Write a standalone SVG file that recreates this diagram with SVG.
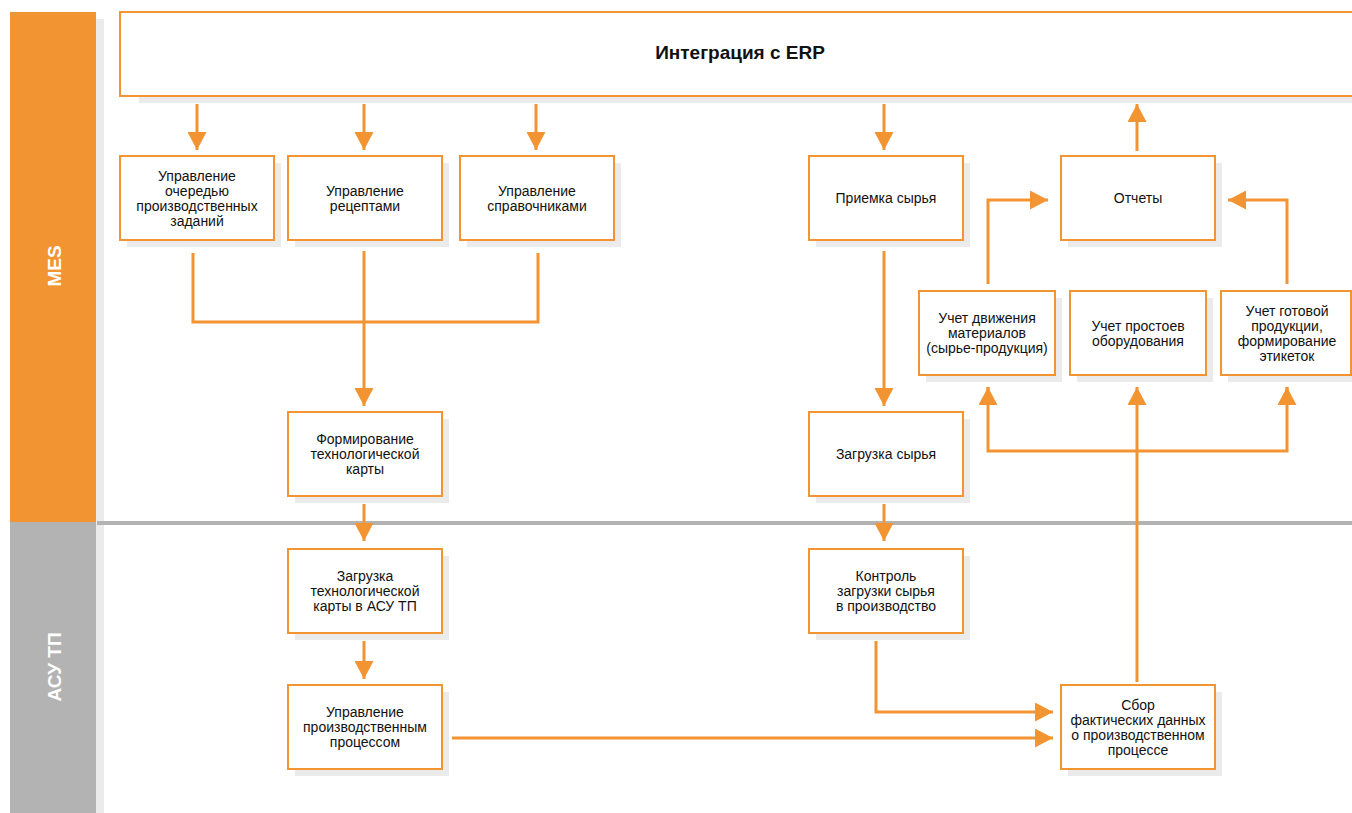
<svg xmlns="http://www.w3.org/2000/svg" width="1352" height="813" viewBox="0 0 1352 813">
<style>
.box{fill:#fff;stroke:#f39433;stroke-width:2}
.sh{fill:#ebebeb}
.t{font-family:"Liberation Sans",Arial,sans-serif;font-size:14px;fill:#111;text-anchor:middle}
.lane{font-family:"Liberation Sans",Arial,sans-serif;font-size:19px;font-weight:bold;fill:#fff;text-anchor:middle}
.c{fill:none;stroke:#f39433;stroke-width:3}
</style>
<defs>
<marker id="ah" viewBox="0 0 18 19" refX="18" refY="9.5" markerWidth="18" markerHeight="19" markerUnits="userSpaceOnUse" orient="auto">
<path d="M0,0 L18,9.5 L0,19 z" fill="#f39433"/>
</marker>
</defs>
<rect width="1352" height="813" fill="#fff"/>
<g id="lanes">
<rect x="96" y="19" width="8" height="794" class="sh"/>
<rect x="10" y="12" width="86" height="510" fill="#f39433"/>
<rect x="10" y="522" width="86" height="291" fill="#b3b3b3"/>
<rect x="97" y="521" width="1255" height="4" fill="#b3b3b3"/>
<text class="lane" transform="translate(54,266) rotate(-90)" y="7">MES</text>
<text class="lane" transform="translate(54,667) rotate(-90)" y="7">АСУ ТП</text>
</g>
<g id="erp">
<rect x="139" y="19" width="1250" height="84" class="sh"/>
<rect x="120" y="12" width="1250" height="84" class="box"/>
<text x="740" y="59" class="t" style="font-size:19px;font-weight:bold">Интеграция с ERP</text>
</g>
<g id="n-queue">
<rect x="127" y="163" width="154" height="84" class="sh"/>
<rect x="120" y="156" width="154" height="84" class="box"/>
<text class="t" x="197"><tspan x="197" y="180.5">Управление</tspan><tspan x="197" y="195.5">очередью</tspan><tspan x="197" y="210.5">производственных</tspan><tspan x="197" y="225.5">заданий</tspan></text>
</g>
<g id="n-recipes">
<rect x="295" y="163" width="154" height="84" class="sh"/>
<rect x="288" y="156" width="154" height="84" class="box"/>
<text class="t"><tspan x="365" y="195.5">Управление</tspan><tspan x="365" y="210.5">рецептами</tspan></text>
</g>
<g id="n-refs">
<rect x="467" y="163" width="154" height="84" class="sh"/>
<rect x="460" y="156" width="154" height="84" class="box"/>
<text class="t"><tspan x="537" y="195.5">Управление</tspan><tspan x="537" y="210.5">справочниками</tspan></text>
</g>
<g id="n-intake">
<rect x="816" y="163" width="154" height="84" class="sh"/>
<rect x="809" y="156" width="154" height="84" class="box"/>
<text class="t" x="886" y="203">Приемка сырья</text>
</g>
<g id="n-reports">
<rect x="1068" y="163" width="154" height="84" class="sh"/>
<rect x="1061" y="156" width="154" height="84" class="box"/>
<text class="t" x="1138" y="203">Отчеты</text>
</g>
<g id="n-movement">
<rect x="926" y="298" width="136" height="84" class="sh"/>
<rect x="919" y="291" width="136" height="84" class="box"/>
<text class="t"><tspan x="987" y="323">Учет движения</tspan><tspan x="987" y="338">материалов</tspan><tspan x="987" y="353">(сырье-продукция)</tspan></text>
</g>
<g id="n-downtime">
<rect x="1077" y="298" width="136" height="84" class="sh"/>
<rect x="1070" y="291" width="136" height="84" class="box"/>
<text class="t"><tspan x="1138" y="331">Учет простоев</tspan><tspan x="1138" y="346">оборудования</tspan></text>
</g>
<g id="n-finished">
<rect x="1228" y="298" width="136" height="84" class="sh"/>
<rect x="1221" y="291" width="130" height="84" class="box"/>
<text class="t"><tspan x="1287" y="315.5">Учет готовой</tspan><tspan x="1287" y="330.5">продукции,</tspan><tspan x="1287" y="345.5">формирование</tspan><tspan x="1287" y="360.5">этикеток</tspan></text>
</g>
<g id="n-techcard">
<rect x="295" y="419" width="154" height="84" class="sh"/>
<rect x="288" y="412" width="154" height="84" class="box"/>
<text class="t"><tspan x="365" y="444">Формирование</tspan><tspan x="365" y="459">технологической</tspan><tspan x="365" y="474">карты</tspan></text>
</g>
<g id="n-loadraw">
<rect x="816" y="419" width="154" height="84" class="sh"/>
<rect x="809" y="412" width="154" height="84" class="box"/>
<text class="t" x="886" y="459">Загрузка сырья</text>
</g>
<g id="n-loadcard">
<rect x="295" y="556" width="154" height="84" class="sh"/>
<rect x="288" y="549" width="154" height="84" class="box"/>
<text class="t"><tspan x="365" y="581">Загрузка</tspan><tspan x="365" y="596">технологической</tspan><tspan x="365" y="611">карты в АСУ ТП</tspan></text>
</g>
<g id="n-control">
<rect x="816" y="556" width="154" height="84" class="sh"/>
<rect x="809" y="549" width="154" height="84" class="box"/>
<text class="t"><tspan x="886" y="581">Контроль</tspan><tspan x="886" y="596">загрузки сырья</tspan><tspan x="886" y="611">в производство</tspan></text>
</g>
<g id="n-process">
<rect x="295" y="692" width="154" height="84" class="sh"/>
<rect x="288" y="685" width="154" height="84" class="box"/>
<text class="t"><tspan x="365" y="717">Управление</tspan><tspan x="365" y="732">производственным</tspan><tspan x="365" y="747">процессом</tspan></text>
</g>
<g id="n-collect">
<rect x="1068" y="692" width="154" height="84" class="sh"/>
<rect x="1061" y="685" width="154" height="84" class="box"/>
<text class="t"><tspan x="1138" y="709.5">Сбор</tspan><tspan x="1138" y="724.5">фактических данных</tspan><tspan x="1138" y="739.5">о производственном</tspan><tspan x="1138" y="754.5">процессе</tspan></text>
</g>
<g id="connectors">
<path class="c" d="M197,104 V150" marker-end="url(#ah)"/>
<path class="c" d="M364,104 V150" marker-end="url(#ah)"/>
<path class="c" d="M536,104 V150" marker-end="url(#ah)"/>
<path class="c" d="M884,104 V150" marker-end="url(#ah)"/>
<path class="c" d="M1137,151 V104" marker-end="url(#ah)"/>
<path class="c" d="M193,253 V322 H538 V253"/>
<path class="c" d="M364,251 V406" marker-end="url(#ah)"/>
<path class="c" d="M364,504 V541" marker-end="url(#ah)"/>
<path class="c" d="M364,641 V679" marker-end="url(#ah)"/>
<path class="c" d="M452,738 H1053" marker-end="url(#ah)"/>
<path class="c" d="M876,641 V712 H1053" marker-end="url(#ah)"/>
<path class="c" d="M884,251 V406" marker-end="url(#ah)"/>
<path class="c" d="M884,504 V541" marker-end="url(#ah)"/>
<path class="c" d="M1137,682 V387" marker-end="url(#ah)"/>
<path class="c" d="M988,387 V451 H1287 V387" />
<path class="c" d="M988,404 V387" marker-end="url(#ah)"/>
<path class="c" d="M1287,404 V387" marker-end="url(#ah)"/>
<path class="c" d="M988,284 V200 H1048" marker-end="url(#ah)"/>
<path class="c" d="M1287,284 V200 H1228" marker-end="url(#ah)"/>
</g>
</svg>
